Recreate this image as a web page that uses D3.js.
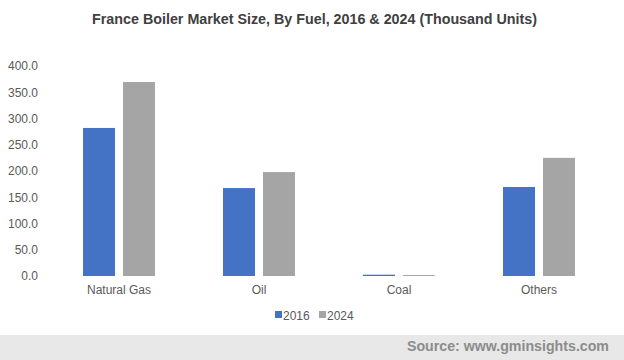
<!DOCTYPE html>
<html><head><meta charset="utf-8">
<script src="https://cdn.jsdelivr.net/npm/d3@7"></script>
<style>body{margin:0;background:#fff}svg{display:block;font-family:"Liberation Sans",Arial,sans-serif}</style>
</head><body><svg id="c" width="624" height="360"></svg>
<script>
const categories = ["Natural Gas", "Oil", "Coal", "Others"];
const series = ["2016", "2024"];
const values2016 = [282, 167.5, 2.5, 169.5];
const values2024 = [369.5, 198, 1.8, 225];
const yTicks = [0, 50, 100, 150, 200, 250, 300, 350, 400];
const colors = ["#4472c4", "#a5a5a5"];

const svg = d3.select("#c");
const W = 624, H = 360;
const m = {left: 49, right: 15, top: 66, bottom: 84};
const plotW = W - m.left - m.right, plotH = H - m.top - m.bottom;

svg.append("rect").attr("x",0).attr("y",335).attr("width",W).attr("height",25).attr("fill","#e8e8e8");

svg.append("text").attr("x",314.5).attr("y",24).attr("text-anchor","middle")
  .attr("font-size",14.3).attr("font-weight","bold").attr("fill","#404040")
  .text("France Boiler Market Size, By Fuel, 2016 & 2024 (Thousand Units)");

const x0 = d3.scaleBand().domain(categories).range([m.left, m.left + plotW]).paddingInner(0).paddingOuter(0);
const groupW = x0.bandwidth() * 0.514;
const x1 = d3.scaleBand().domain(series).range([0, groupW]).paddingInner(0.2).paddingOuter(0);
const y = d3.scaleLinear().domain([0, 400]).range([m.top + plotH, m.top]);

const g = svg.append("g");
const data = categories.map((c, i) => ({c, v: [values2016[i], values2024[i]]}));
const grp = g.selectAll("g.cat").data(data).join("g")
  .attr("transform", d => `translate(${x0(d.c) + (x0.bandwidth() - groupW) / 2},0)`);
grp.selectAll("rect").data(d => d.v.map((v, j) => ({s: series[j], v, j}))).join("rect")
  .attr("x", d => x1(d.s)).attr("width", x1.bandwidth())
  .attr("y", d => y(d.v)).attr("height", d => y(0) - y(d.v))
  .attr("fill", d => colors[d.j]);

const yAxis = svg.append("g").attr("transform", `translate(${m.left - 8},0)`)
  .call(d3.axisLeft(y).tickValues(yTicks).tickFormat(d3.format(".1f")).tickSize(0));
yAxis.select(".domain").remove();
yAxis.selectAll("text").attr("font-size",12).attr("fill","#595959").attr("font-family","Liberation Sans, Arial, sans-serif").attr("dx",0);

const xAxis = svg.append("g").attr("transform", `translate(0,${y(0)})`)
  .call(d3.axisBottom(x0).tickSize(0).tickPadding(9));
xAxis.select(".domain").remove();
xAxis.selectAll("text").attr("font-size",12).attr("fill","#595959").attr("font-family","Liberation Sans, Arial, sans-serif");

const leg = svg.append("g");
const legX = [275, 319];
series.forEach((s, i) => {
  leg.append("rect").attr("x", legX[i]).attr("y", 311).attr("width", 7).attr("height", 7).attr("fill", colors[i]);
  leg.append("text").attr("x", legX[i] + 8).attr("y", 319.5).attr("font-size", 12).attr("fill", "#595959").text(s);
});

svg.append("text").attr("x",609).attr("y",351).attr("text-anchor","end")
  .attr("font-size",14.2).attr("font-weight","bold").attr("fill","#8c8c8c")
  .text("Source: www.gminsights.com");
</script></body></html>
